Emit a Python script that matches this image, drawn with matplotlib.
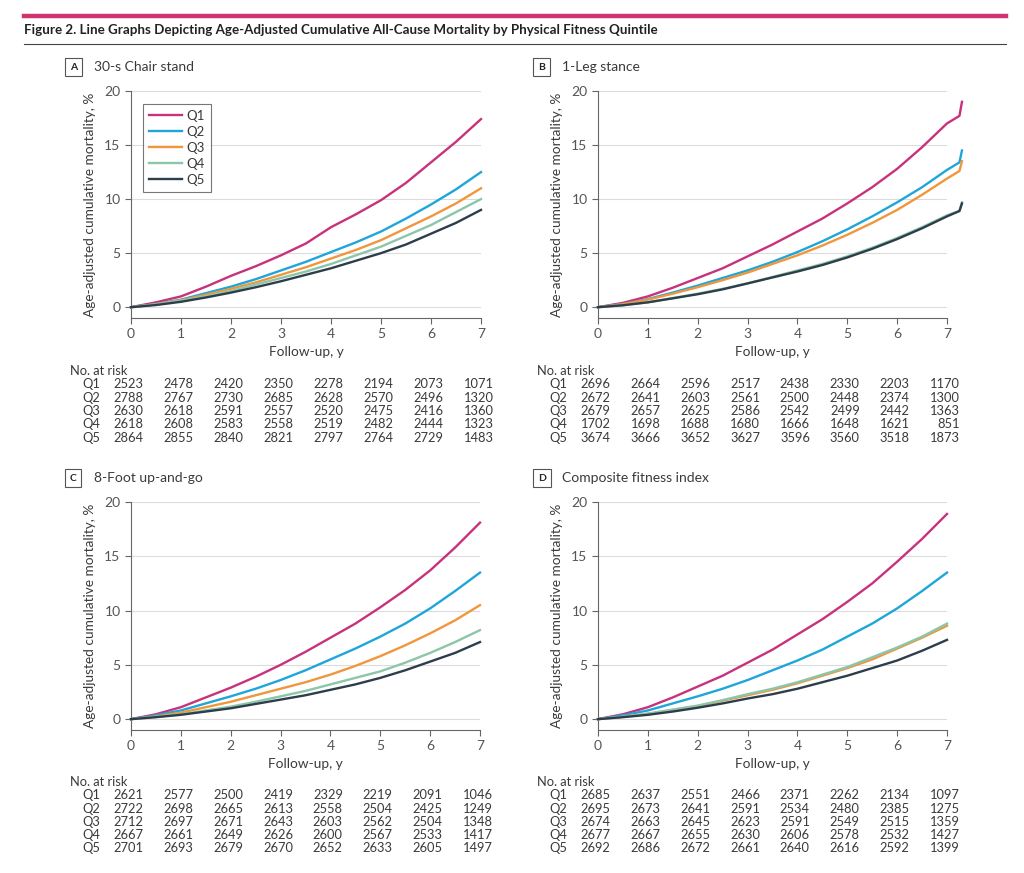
import numpy as np
import matplotlib
matplotlib.use("Agg")
import matplotlib.pyplot as plt
from matplotlib.transforms import blended_transform_factory

plt.rcParams['font.family'] = ['Lato', 'DejaVu Sans']

# ---- data ----
quintiles = ["Q1", "Q2", "Q3", "Q4", "Q5"]
colors = ["#c8327c", "#1ea6da", "#f0963c", "#8cc6aa", "#2e3d4b"]

years = [0, 0.5, 1, 1.5, 2, 2.5, 3, 3.5, 4, 4.5, 5, 5.5, 6, 6.5, 7]
years_b = years + [7.25, 7.3]

chair_q1 = [0, 0.45, 1.0, 1.9, 2.9, 3.8, 4.8, 5.9, 7.4, 8.6, 9.9, 11.5, 13.4, 15.3, 17.4]
chair_q2 = [0, 0.3, 0.7, 1.3, 1.9, 2.6, 3.4, 4.2, 5.1, 6.0, 7.0, 8.2, 9.5, 10.9, 12.5]
chair_q3 = [0, 0.28, 0.65, 1.15, 1.7, 2.3, 3.0, 3.7, 4.5, 5.3, 6.2, 7.3, 8.4, 9.6, 11.0]
chair_q4 = [0, 0.25, 0.6, 1.0, 1.5, 2.1, 2.7, 3.3, 4.0, 4.8, 5.6, 6.6, 7.6, 8.8, 10.0]
chair_q5 = [0, 0.2, 0.5, 0.9, 1.35, 1.85, 2.4, 3.0, 3.6, 4.3, 5.0, 5.8, 6.8, 7.8, 9.0]

leg_q1 = [0, 0.4, 1.0, 1.8, 2.7, 3.6, 4.7, 5.8, 7.0, 8.2, 9.6, 11.1, 12.8, 14.8, 17.0, 17.7, 19.0]
leg_q2 = [0, 0.3, 0.75, 1.35, 2.0, 2.7, 3.4, 4.2, 5.1, 6.1, 7.2, 8.4, 9.7, 11.1, 12.7, 13.4, 14.5]
leg_q3 = [0, 0.28, 0.7, 1.25, 1.85, 2.5, 3.2, 4.0, 4.8, 5.7, 6.7, 7.8, 9.0, 10.4, 11.9, 12.6, 13.5]
leg_q4 = [0, 0.18, 0.45, 0.85, 1.25, 1.7, 2.2, 2.8, 3.4, 4.0, 4.7, 5.5, 6.4, 7.4, 8.5, 8.9, 9.7]
leg_q5 = [0, 0.18, 0.45, 0.82, 1.2, 1.65, 2.2, 2.75, 3.3, 3.9, 4.6, 5.4, 6.3, 7.3, 8.4, 8.9, 9.6]

foot_q1 = [0, 0.45, 1.1, 2.0, 2.9, 3.9, 5.0, 6.2, 7.5, 8.8, 10.3, 11.9, 13.7, 15.8, 18.1]
foot_q2 = [0, 0.35, 0.8, 1.45, 2.1, 2.8, 3.6, 4.5, 5.5, 6.5, 7.6, 8.8, 10.2, 11.8, 13.5]
foot_q3 = [0, 0.25, 0.6, 1.1, 1.6, 2.2, 2.8, 3.4, 4.1, 4.9, 5.8, 6.8, 7.9, 9.1, 10.5]
foot_q4 = [0, 0.2, 0.45, 0.8, 1.15, 1.6, 2.1, 2.6, 3.2, 3.8, 4.4, 5.2, 6.1, 7.1, 8.2]
foot_q5 = [0, 0.18, 0.4, 0.7, 1.0, 1.4, 1.8, 2.2, 2.7, 3.2, 3.8, 4.5, 5.3, 6.1, 7.1]

comp_q1 = [0, 0.45, 1.1, 2.0, 3.0, 4.0, 5.2, 6.4, 7.8, 9.2, 10.8, 12.5, 14.5, 16.6, 18.9]
comp_q2 = [0, 0.35, 0.8, 1.45, 2.1, 2.8, 3.6, 4.5, 5.4, 6.4, 7.6, 8.8, 10.2, 11.8, 13.5]
comp_q3 = [0, 0.22, 0.5, 0.85, 1.2, 1.7, 2.2, 2.7, 3.3, 4.0, 4.7, 5.5, 6.5, 7.5, 8.6]
comp_q4 = [0, 0.22, 0.5, 0.88, 1.25, 1.75, 2.3, 2.8, 3.4, 4.1, 4.8, 5.7, 6.6, 7.6, 8.8]
comp_q5 = [0, 0.18, 0.4, 0.7, 1.05, 1.45, 1.9, 2.3, 2.8, 3.4, 4.0, 4.7, 5.4, 6.3, 7.3]

risk_chair = [[2523, 2478, 2420, 2350, 2278, 2194, 2073, 1071],
              [2788, 2767, 2730, 2685, 2628, 2570, 2496, 1320],
              [2630, 2618, 2591, 2557, 2520, 2475, 2416, 1360],
              [2618, 2608, 2583, 2558, 2519, 2482, 2444, 1323],
              [2864, 2855, 2840, 2821, 2797, 2764, 2729, 1483]]
risk_leg = [[2696, 2664, 2596, 2517, 2438, 2330, 2203, 1170],
            [2672, 2641, 2603, 2561, 2500, 2448, 2374, 1300],
            [2679, 2657, 2625, 2586, 2542, 2499, 2442, 1363],
            [1702, 1698, 1688, 1680, 1666, 1648, 1621, 851],
            [3674, 3666, 3652, 3627, 3596, 3560, 3518, 1873]]
risk_foot = [[2621, 2577, 2500, 2419, 2329, 2219, 2091, 1046],
             [2722, 2698, 2665, 2613, 2558, 2504, 2425, 1249],
             [2712, 2697, 2671, 2643, 2603, 2562, 2504, 1348],
             [2667, 2661, 2649, 2626, 2600, 2567, 2533, 1417],
             [2701, 2693, 2679, 2670, 2652, 2633, 2605, 1497]]
risk_comp = [[2685, 2637, 2551, 2466, 2371, 2262, 2134, 1097],
             [2695, 2673, 2641, 2591, 2534, 2480, 2385, 1275],
             [2674, 2663, 2645, 2623, 2591, 2549, 2515, 1359],
             [2677, 2667, 2655, 2630, 2606, 2578, 2532, 1427],
             [2692, 2686, 2672, 2661, 2640, 2616, 2592, 1399]]

panels = [
    ("A", "30-s Chair stand", years,
     [chair_q1, chair_q2, chair_q3, chair_q4, chair_q5], risk_chair),
    ("B", "1-Leg stance", years_b,
     [leg_q1, leg_q2, leg_q3, leg_q4, leg_q5], risk_leg),
    ("C", "8-Foot up-and-go", years,
     [foot_q1, foot_q2, foot_q3, foot_q4, foot_q5], risk_foot),
    ("D", "Composite fitness index", years,
     [comp_q1, comp_q2, comp_q3, comp_q4, comp_q5], risk_comp),
]

W, H = 1024, 873
fig = plt.figure(figsize=(W / 100, H / 100), dpi=100)

TXT = "#3a3a3a"
GRAY = "#555555"


def fx(px):
    return px / W


def fy(py):
    return 1 - py / H


# header lines and title
fig.add_artist(plt.Line2D([fx(24), fx(1006)], [fy(16), fy(16)], color="#d0336f", lw=3.2))
fig.add_artist(plt.Line2D([fx(24), fx(1006)], [fy(44), fy(44)], color="#444444", lw=0.8))
fig.text(fx(24), fy(30), "Figure 2. Line Graphs Depicting Age-Adjusted Cumulative "
         "All-Cause Mortality by Physical Fitness Quintile",
         fontsize=9.6, fontweight="bold", color="#222222", va="center", ha="left")

# axes placement (pixel coords of x=0 / x=7, top y=20, bottom spine)
ax_px = {"A": (131, 481, 91, 318), "B": (598, 947, 91, 318),
         "C": (131, 480, 502, 730), "D": (598, 947, 502, 730)}
label_y = {"A": 67, "B": 67, "C": 478, "D": 478}
table_y = {"A": 371, "B": 371, "C": 782, "D": 782}

for letter, name, xs, series, risk in panels:
    left, right, top, bottom = ax_px[letter]
    ax = fig.add_axes([fx(left), fy(bottom), (right - left) / W, (bottom - top) / H])

    for q, ys, c in zip(quintiles, series, colors):
        ax.plot(xs, ys, color=c, lw=1.7, label=q, clip_on=False, zorder=3)

    ax.set_xlim(0, 7)
    ax.set_ylim(-1, 20)
    ax.set_xticks(range(8))
    ax.set_yticks([0, 5, 10, 15, 20])
    for yv in [0, 5, 10, 15, 20]:
        ax.axhline(yv, color="#dcdcdc", lw=0.8, zorder=1)
    for s in ["top", "right"]:
        ax.spines[s].set_visible(False)
    for s in ["left", "bottom"]:
        ax.spines[s].set_color("#666666")
        ax.spines[s].set_linewidth(0.8)
    ax.tick_params(colors="#666666", labelcolor=GRAY, labelsize=10, length=4, width=0.8)
    ax.set_xlabel("Follow-up, y", fontsize=9.8, color=TXT, labelpad=4)
    ax.set_ylabel("Age-adjusted cumulative mortality, %", fontsize=9.8, color=TXT, labelpad=6)

    if letter == "A":
        leg = ax.legend(loc="upper left", bbox_to_anchor=(0.034, 0.943), borderaxespad=0,
                        frameon=True, fancybox=False, fontsize=9.5, handlelength=2.5,
                        labelspacing=0.3, borderpad=0.45, handletextpad=0.35)
        leg.get_frame().set_edgecolor("#555555")
        leg.get_frame().set_linewidth(0.8)
        for t in leg.get_texts():
            t.set_color(TXT)

    # panel label
    lx = left - 62 if letter in "AC" else left - 61
    fig.text(fx(lx + 1), fy(label_y[letter]), letter, fontsize=7.5, fontweight="bold",
             color="#222222", ha="left", va="center",
             bbox=dict(boxstyle="square,pad=0.45", fc="white", ec="#555555", lw=0.8))
    fig.text(fx(lx + 25), fy(label_y[letter]), name, fontsize=10, color=TXT,
             ha="left", va="center")

    # number at risk table
    ty = table_y[letter]
    fig.text(fx(left - 61), fy(ty), "No. at risk", fontsize=9.3, color=TXT, va="center")
    tr = blended_transform_factory(ax.transData, fig.transFigure)
    for i, (q, row) in enumerate(zip(quintiles, risk)):
        yy = fy(ty + 13.3 * (i + 1))
        fig.text(fx(left - 49), yy, q, fontsize=9.3, color=TXT, va="center")
        for k, n in enumerate(row):
            ax.text(k + 0.25, yy, str(n), transform=tr, fontsize=9.3, color=TXT,
                    ha="right", va="center")

fig.savefig("out.png", dpi=100, facecolor="white")
